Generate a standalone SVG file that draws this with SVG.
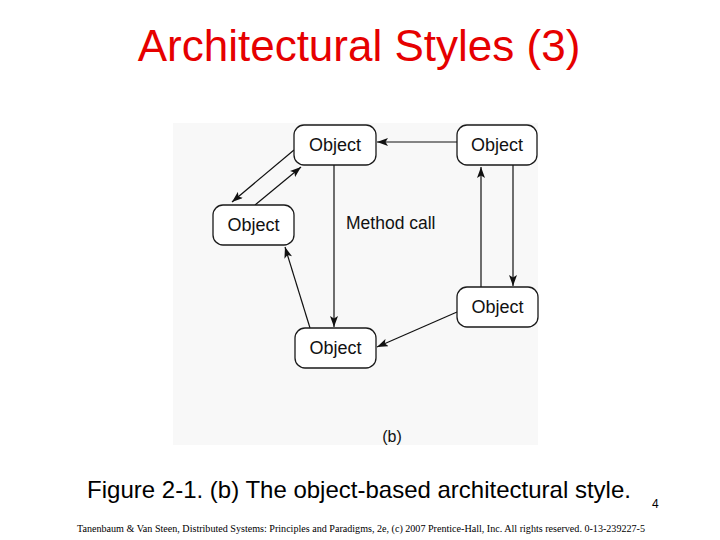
<svg xmlns="http://www.w3.org/2000/svg" width="720" height="540" viewBox="0 0 720 540">
<defs>
<style>
.title{font-family:"Liberation Sans",Arial,sans-serif;font-size:44px;fill:#e60000}
.node rect{fill:#ffffff;stroke:#1a1a1a;stroke-width:1.3}
.node text{font-family:"Liberation Sans",Arial,sans-serif;font-size:18px;fill:#111;text-anchor:middle}
.lbl{font-family:"Liberation Sans",Arial,sans-serif;font-size:17.5px;fill:#111}
.edge line{stroke:#111;stroke-width:1.2;marker-end:url(#arr)}
.cap{font-family:"Liberation Sans",Arial,sans-serif;font-size:24px;fill:#000;text-anchor:middle}
.foot{font-family:"Liberation Serif","Times New Roman",serif;font-size:10px;fill:#000}
</style>
<marker id="arr" markerUnits="userSpaceOnUse" markerWidth="11" markerHeight="8" refX="11" refY="4" orient="auto">
<path d="M0,0 L11,4 L0,8 L2.5,4 z" fill="#111"/>
</marker>
</defs>
<rect width="720" height="540" fill="#ffffff"/>
<text class="title" x="359" y="61" text-anchor="middle">Architectural Styles (3)</text>
<rect x="173" y="123" width="365" height="322" fill="#f8f8f8"/>
<g id="connectors" class="edge">
<line x1="457" y1="142" x2="377" y2="142"/>
<line x1="294" y1="150" x2="232" y2="202"/>
<line x1="255" y1="205" x2="301" y2="167"/>
<line x1="334" y1="165" x2="334" y2="327"/>
<line x1="310" y1="328" x2="285" y2="247"/>
<line x1="457" y1="312" x2="377" y2="347"/>
<line x1="481" y1="287" x2="481" y2="167"/>
<line x1="513" y1="165" x2="513" y2="286"/>
</g>
<g id="obj-top" class="node"><rect x="294" y="125" width="82" height="40" rx="10"/><text x="335" y="151">Object</text></g>
<g id="obj-topright" class="node"><rect x="457" y="125" width="80" height="40" rx="10"/><text x="497" y="151">Object</text></g>
<g id="obj-left" class="node"><rect x="213" y="205" width="81" height="40" rx="10"/><text x="253.5" y="231">Object</text></g>
<g id="obj-right" class="node"><rect x="457" y="287" width="81" height="40" rx="10"/><text x="497.5" y="313">Object</text></g>
<g id="obj-bottom" class="node"><rect x="295" y="328" width="81" height="40" rx="10"/><text x="335.5" y="354">Object</text></g>
<text class="lbl" x="346" y="229">Method call</text>
<text class="lbl" x="392" y="442" text-anchor="middle" style="font-size:16px">(b)</text>
<text class="cap" x="359" y="498">Figure 2-1. (b) The object-based architectural style.</text>
<text x="652" y="508" style="font-family:'Liberation Sans',Arial,sans-serif;font-size:12px;fill:#000">4</text>
<text class="foot" x="77" y="532" textLength="568" lengthAdjust="spacingAndGlyphs">Tanenbaum &amp; Van Steen, Distributed Systems: Principles and Paradigms, 2e, (c) 2007 Prentice-Hall, Inc. All rights reserved. 0-13-239227-5</text>
</svg>
